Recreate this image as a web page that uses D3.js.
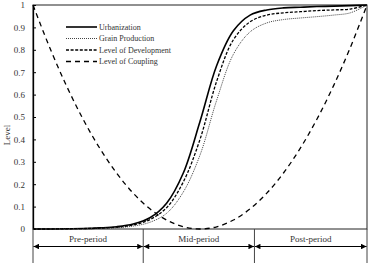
<!DOCTYPE html>
<html lang="en">
<head>
  <meta charset="UTF-8">
  <title>Level curves</title>
  <script src="https://d3js.org/d3.v7.min.js"></script>
</head>
<style>
  body { margin: 0; background: #fff; }
  text { font-family: "Liberation Serif", "DejaVu Serif", serif; fill: #333; }
</style>
<body>
  <svg width="370" height="266"></svg>
</body>
<script>
  const svg = d3.select("svg");
  const width = +svg.attr('width');
  const height = +svg.attr('height');
  const margin = { top: 5, right: 3, bottom: 37, left: 33 };
  const innerWidth = width - margin.left - margin.right;
  const innerHeight = height - margin.top - margin.bottom;

  // time (share of the whole process)
  const steps = [0, 0.05, 0.1, 0.15, 0.2, 0.25, 0.3, 0.35, 0.4, 0.45, 0.5,
    0.55, 0.6, 0.65, 0.7, 0.75, 0.8, 0.85, 0.9, 0.95, 1];
  const urbanization = [0, 0, 0.001, 0.002, 0.005, 0.01, 0.022, 0.05, 0.115, 0.25, 0.48,
    0.73, 0.885, 0.955, 0.978, 0.987, 0.99, 0.993, 0.995, 0.997, 1];
  const grain = [0, 0, 0.001, 0.001, 0.003, 0.006, 0.013, 0.03, 0.07, 0.165, 0.33,
    0.575, 0.78, 0.88, 0.92, 0.935, 0.942, 0.948, 0.955, 0.965, 1];
  const development = [0, 0, 0.001, 0.002, 0.004, 0.008, 0.018, 0.042, 0.095, 0.21, 0.4,
    0.66, 0.845, 0.925, 0.955, 0.965, 0.97, 0.975, 0.978, 0.982, 1];
  const coupling = [1, 0.81, 0.64, 0.49, 0.36, 0.25, 0.16, 0.09, 0.04, 0.01, 0,
    0.01, 0.04, 0.09, 0.16, 0.25, 0.36, 0.49, 0.64, 0.81, 1];

  const seriesNames = ['Urbanization', 'Grain Production', 'Level of Development', 'Level of Coupling'];
  const periods = ['Pre-period', 'Mid-period', 'Post-period'];
  const periodBounds = [0, 0.33, 0.663, 1];
  const yTicks = [0, 0.1, 0.2, 0.3, 0.4, 0.5, 0.6, 0.7, 0.8, 0.9, 1];

  const styles = [
    { dash: null, w: 1.6, color: '#000' },
    { dash: '1,1', w: 1, color: '#444' },
    { dash: '3,1.6', w: 1.3, color: '#000' },
    { dash: '5,4', w: 1.3, color: '#000' }
  ];
  const allSeries = [urbanization, grain, development, coupling];

  const xScale = d3.scaleLinear().domain([0, 1]).range([0, innerWidth]);
  const yScale = d3.scaleLinear().domain([0, 1]).range([innerHeight, 0]);

  const g = svg.append('g').attr('transform', `translate(${margin.left},${margin.top})`);

  // frame
  g.append('rect')
    .attr('width', innerWidth).attr('height', innerHeight)
    .attr('fill', 'none').attr('stroke', '#222').attr('stroke-width', 1);

  // y axis, ticks inside
  const yAxis = g.append('g')
    .call(d3.axisLeft(yScale).tickValues(yTicks).tickSizeInner(-3).tickSizeOuter(0)
      .tickPadding(8).tickFormat(d3.format('')));
  yAxis.select('.domain').attr('stroke', '#000').attr('stroke-width', 1.3);
  yAxis.selectAll('.tick line').attr('stroke', '#000');
  yAxis.selectAll('text').attr('font-size', 9).attr('font-family', '"Liberation Serif", serif').attr('fill', '#333');

  svg.append('text')
    .attr('transform', `translate(7,${margin.top + yScale(0.42)}) rotate(-90)`)
    .attr('text-anchor', 'middle')
    .attr('dy', '0.33em')
    .attr('font-size', 9)
    .text('Level');

  // curves
  const line = d3.line()
    .x((d, i) => xScale(steps[i]))
    .y(d => yScale(d))
    .curve(d3.curveCatmullRom.alpha(0.5));

  g.selectAll('.serie')
    .data(allSeries)
    .join('path')
    .attr('class', 'serie')
    .attr('d', line)
    .attr('fill', 'none')
    .attr('stroke', (d, i) => styles[i].color)
    .attr('stroke-width', (d, i) => styles[i].w)
    .attr('stroke-dasharray', (d, i) => styles[i].dash);

  // legend
  const legend = g.append('g').attr('transform', 'translate(33,22)');
  const rows = legend.selectAll('g').data(seriesNames).join('g')
    .attr('transform', (d, i) => `translate(0,${i * 11.5})`);
  rows.append('line')
    .attr('x1', 0).attr('x2', 31)
    .attr('stroke', (d, i) => styles[i].color)
    .attr('stroke-width', (d, i) => styles[i].w)
    .attr('stroke-dasharray', (d, i) => styles[i].dash);
  rows.append('text')
    .attr('x', 33).attr('dy', '0.33em')
    .attr('font-size', 8)
    .attr('fill', '#444')
    .text(d => d);

  // periods below the axis
  const marker = svg.append('defs');
  marker.append('marker')
    .attr('id', 'arr')
    .attr('viewBox', '0 0 10 10')
    .attr('refX', 10).attr('refY', 5)
    .attr('markerWidth', 7).attr('markerHeight', 5.5)
    .attr('markerUnits', 'userSpaceOnUse')
    .attr('orient', 'auto-start-reverse')
    .append('path').attr('d', 'M0,0L10,5L0,10Z').attr('fill', '#000');

  const bottom = g.append('g').attr('transform', `translate(0,${innerHeight})`);
  bottom.selectAll('.divider')
    .data(periodBounds)
    .join('line')
    .attr('class', 'divider')
    .attr('x1', d => xScale(d)).attr('x2', d => xScale(d))
    .attr('y1', 0).attr('y2', 34)
    .attr('stroke', '#444').attr('stroke-width', 1);

  bottom.selectAll('.arrow')
    .data(periods)
    .join('line')
    .attr('class', 'arrow')
    .attr('x1', (d, i) => xScale(periodBounds[i]) + 0.5)
    .attr('x2', (d, i) => xScale(periodBounds[i + 1]) - 0.5)
    .attr('y1', 17.5).attr('y2', 17.5)
    .attr('stroke', '#000').attr('stroke-width', 1)
    .attr('marker-start', 'url(#arr)')
    .attr('marker-end', 'url(#arr)');

  bottom.selectAll('.plabel')
    .data(periods)
    .join('text')
    .attr('class', 'plabel')
    .attr('x', (d, i) => (xScale(periodBounds[i]) + xScale(periodBounds[i + 1])) / 2)
    .attr('y', 10).attr('dy', '0.33em')
    .attr('text-anchor', 'middle')
    .attr('font-size', 9)
    .text(d => d);
</script>
</html>
